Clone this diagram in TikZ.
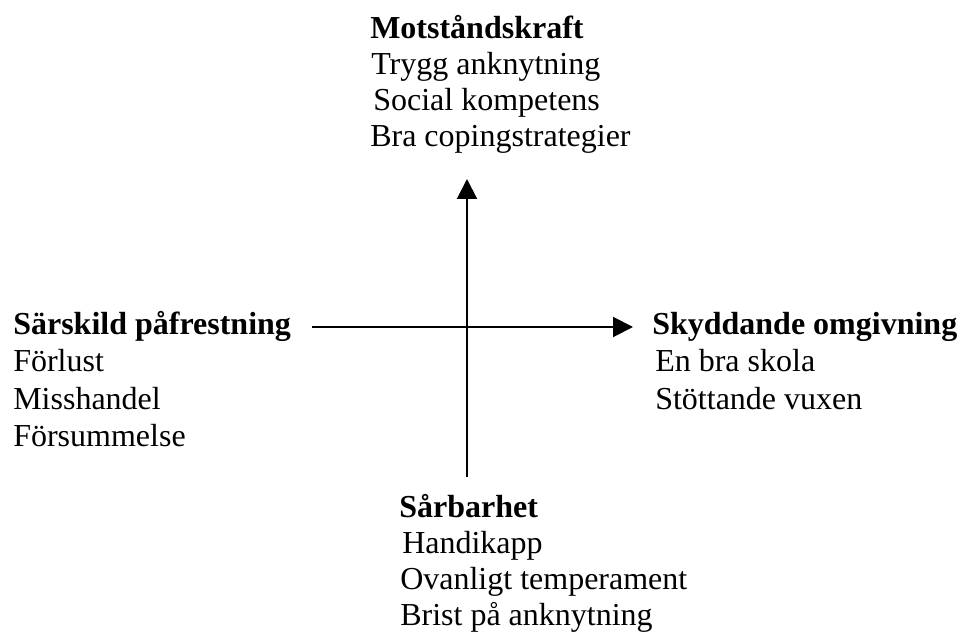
\documentclass[tikz,border=0pt]{standalone}
\usepackage{fontspec}
\setmainfont{Liberation Serif}
\usetikzlibrary{arrows.meta, positioning}
\tikzset{
    txt/.style={anchor=base west, inner sep=0pt, font=\fontsize{24}{30}\selectfont},
    head/.style={txt, font=\fontsize{24}{30}\selectfont\bfseries},
    axis/.style={-{Triangle[length=15pt, width=15pt]}, line width=1.5pt},
}

\begin{document}
\begin{tikzpicture}[x=0.75pt, y=-0.75pt]
    \useasboundingbox (0,0) rectangle (960,634);

    % Motståndskraft (top)
    \node[head] (res0) at (370,39) {Motståndskraft};
    \node[txt] (res1) at (371,75) {Trygg anknytning};
    \node[txt] (res2) at (373,111) {Social kompetens};
    \node[txt] (res3) at (370,147) {Bra copingstrategier};

    % Särskild påfrestning (left)
    \node[head] (str0) at (13,335) {Särskild påfrestning};
    \node[txt] (str1) at (13,372) {Förlust};
    \node[txt] (str2) at (13,409) {Misshandel};
    \node[txt] (str3) at (13,446) {Försummelse};

    % Skyddande omgivning (right)
    \node[head] (pro0) at (652,335) {Skyddande omgivning};
    \node[txt] (pro1) at (655,372) {En bra skola};
    \node[txt] (pro2) at (655,409) {Stöttande vuxen};

    % Sårbarhet (bottom)
    \node[head] (vul0) at (399,517) {Sårbarhet};
    \node[txt] (vul1) at (402,553) {Handikapp};
    \node[txt] (vul2) at (400,589) {Ovanligt temperament};
    \node[txt] (vul3) at (400,625) {Brist på anknytning};

    % axes
    \coordinate (vbot) at (467,477);
    \coordinate (vtop) at (467,179);
    \coordinate (hleft) at (312,327);
    \coordinate (hright) at (633,327);
    \draw[axis] (vbot) -- (vtop);
    \draw[axis] (hleft) -- (hright);
\end{tikzpicture}
\end{document}
